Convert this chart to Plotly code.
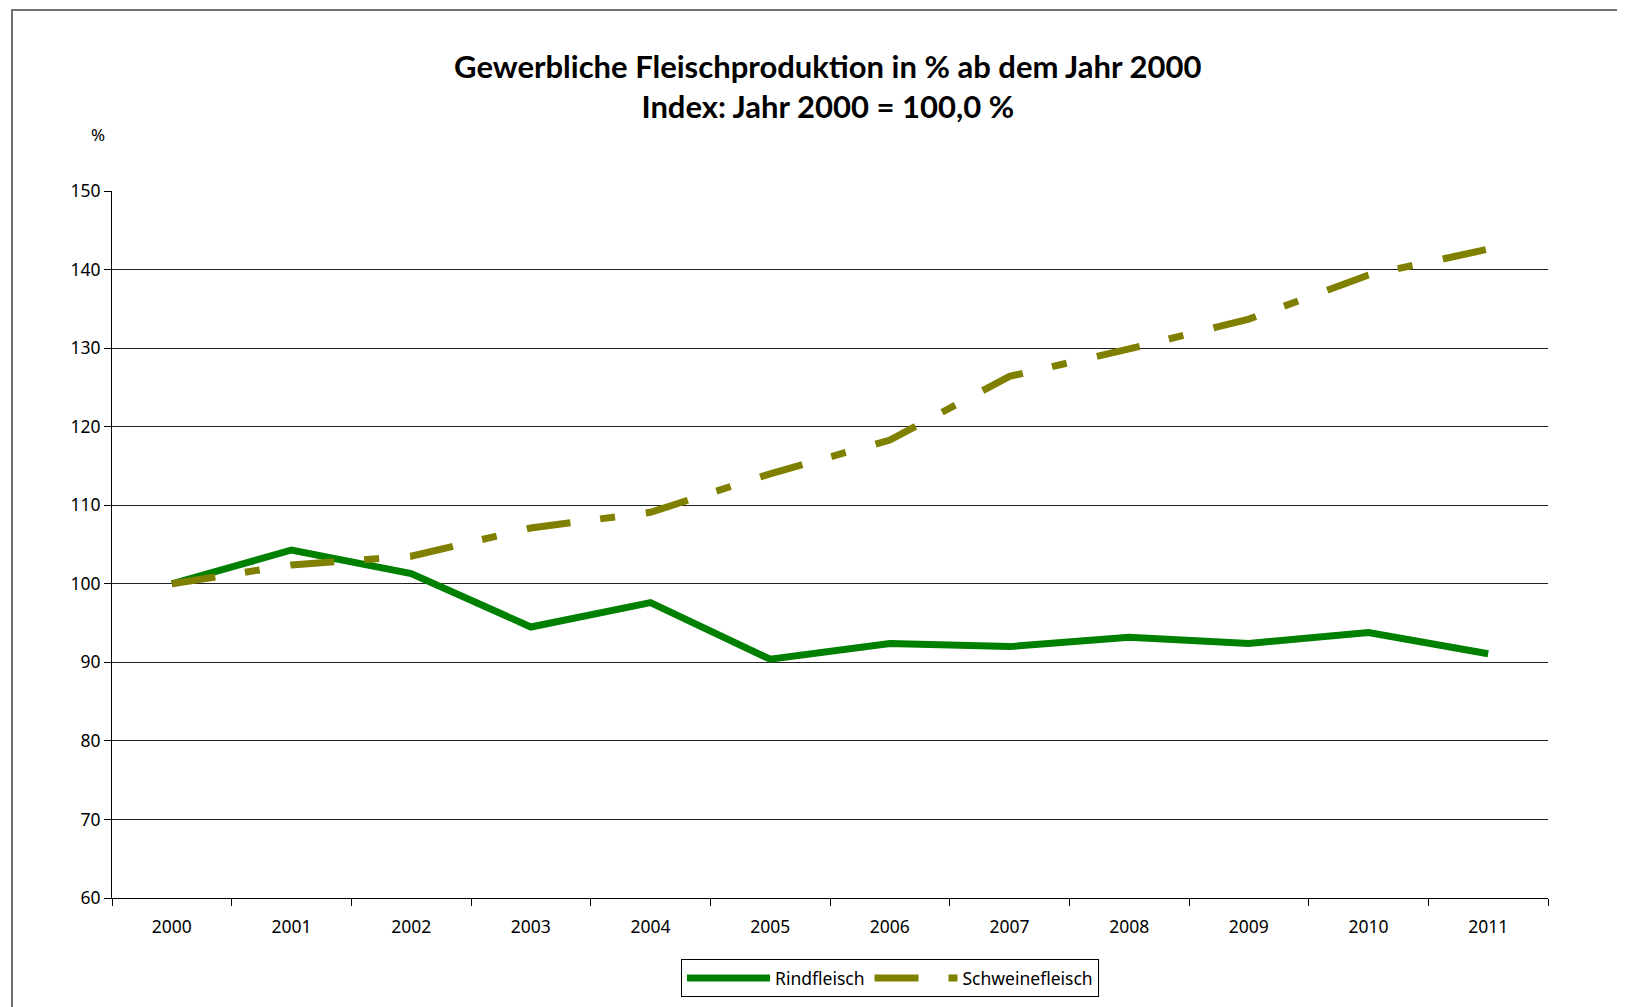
import plotly.graph_objects as go

years = ["2000", "2001", "2002", "2003", "2004", "2005", "2006", "2007", "2008", "2009", "2010", "2011"]
rindfleisch = [100.0, 104.3, 101.3, 94.5, 97.6, 90.4, 92.4, 92.0, 93.2, 92.4, 93.8, 91.1]
schweinefleisch = [100.0, 102.4, 103.5, 107.1, 109.1, 114.0, 118.3, 126.4, 129.9, 133.7, 139.3, 142.6]
y_ticks = [60, 70, 80, 90, 100, 110, 120, 130, 140, 150]

# page has an 8px body margin; figure coordinates = page coordinates - 8
OFF = 8
W, H = 1617, 999
L, R, T, B = 112 - OFF, 1548 - OFF, 191 - OFF, 898 - OFF

fig = go.Figure()
fig.add_trace(go.Scatter(
    x=years, y=rindfleisch, name="Rindfleisch", mode="lines",
    line=dict(color="#008000", width=7),
))
fig.add_trace(go.Scatter(
    x=years, y=schweinefleisch, name="Schweinefleisch", mode="lines",
    line=dict(color="#808000", width=7, dash="44px,30px,15px,31px"),
))

def px_x(p):
    return (p - OFF - L) / (R - L)

def px_y(p):
    return (B - (p - OFF)) / (B - T)

fig.update_layout(
    width=W, height=H,
    margin=dict(l=L, r=W - R, t=T, b=H - B, autoexpand=False),
    paper_bgcolor="white", plot_bgcolor="white",
    font=dict(family="Noto Sans", size=17.5, color="black"),
    title=dict(
        text="<b>Gewerbliche Fleischproduktion in % ab dem Jahr 2000<br>Index: Jahr 2000 = 100,0 %</b>",
        x=px_x(840), xanchor="center", y=1 - (70) / H, yanchor="middle",
        font=dict(family="Lato", size=31, color="black"),
    ),
    xaxis=dict(
        type="category", range=[-0.5, 11.5], tickson="boundaries",
        ticks="outside", ticklen=7, tickcolor="black",
        showline=True, linecolor="black", linewidth=1,
        showgrid=False, tickfont=dict(size=17.5), fixedrange=True,
        ticklabelstandoff=13,
    ),
    yaxis=dict(
        range=[60, 150], tickvals=y_ticks,
        ticks="outside", ticklen=7, tickcolor="black",
        showline=True, linecolor="black", linewidth=1,
        showgrid=True, gridcolor="#222222", gridwidth=1,
        zeroline=False, tickfont=dict(size=17.5),
    ),
    legend=dict(
        orientation="h", x=px_x(890), xanchor="center", y=px_y(959), yanchor="top",
        bordercolor="black", borderwidth=1, font=dict(size=17.5),
        bgcolor="white", itemwidth=83,
    ),
    showlegend=True,
)

fig.add_annotation(
    text="%", xref="paper", yref="paper", x=px_x(98), y=px_y(134),
    showarrow=False, xanchor="center", yanchor="middle", font=dict(size=17),
)

# outer frame
fig.add_shape(
    type="rect", xref="paper", yref="paper",
    x0=px_x(12), x1=px_x(1800), y0=px_y(1200), y1=px_y(10),
    line=dict(color="#707070", width=2), layer="below",
)

fig.write_html("out.html")
